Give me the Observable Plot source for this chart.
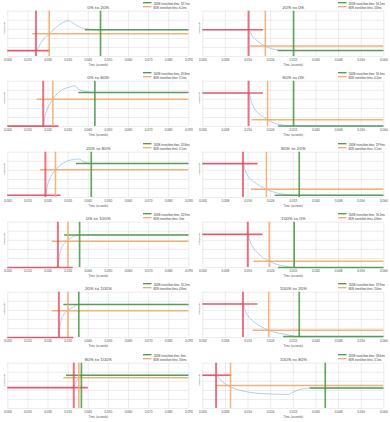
<!DOCTYPE html>
<html><head><meta charset="utf-8">
<script src="https://cdn.jsdelivr.net/npm/d3@7"></script>
<script src="https://cdn.jsdelivr.net/npm/@observablehq/plot@0.6"></script>
<style>
body{margin:0;background:#fff;}
#wrap{position:relative;width:390px;height:422px;overflow:hidden;background:#fff;}
.panel{position:absolute;width:195px;height:70px;}
</style></head><body><div id="wrap"></div>
<script>
const titles = ["0% to 20%","20% to 0%","0% to 80%","80% to 0%","20% to 80%","80% to 20%","0% to 100%","100% to 0%","20% to 100%","100% to 20%","80% to 100%","100% to 80%"];
const t100Labels = ["32.7ms","16.1ms","25.8ms","16.3ms","22.8ms","19.9ms","10.9ms","16.3ms","10.2ms","19.9ms","4ms","38.6ms"];
const t80Labels = ["6.2ms","3.8ms","5.1ms","4.2ms","5.1ms","5.1ms","3ms","4.8ms","4.8ms","3.4ms","3.6ms","3.1ms"];
// times in ms
const startTimes = [14.0,16.2,17.6,16.2,18.7,14.2,24.9,15.9,25.4,14.2,32.8,4.7];
const t80Times   = [20.6,22.1,22.4,22.9,23.7,22.5,29.9,23.5,29.9,23.3,35.3,9.8];
const t100Times  = [46.1,32.1,43.3,32.1,41.5,34.1,35.7,32.3,35.3,34.1,36.6,43.3];
const redEnds      = [21.2,21.5,25.4,21.5,26.5,19.5,32.5,21.3,32.8,19.5,40.0,10.3];
const orangeStarts = [12.4,16.8,14.6,17.4,16.3,17.2,22.1,18.0,22.1,17.8,27.9,4.7];
const greenStarts  = [38.6,26.6,35.3,26.8,34.2,25.6,28.2,26.8,27.9,28.6,29.2,38.0];
// luminosity (relative to plot height)
const startLevels = [0.13,0.59,0.01,0.74,0.05,0.75,0.0,0.73,0.0,0.74,0.46,0.735];
const levels80    = [0.50,0.23,0.60,0.15,0.61,0.18,0.58,0.14,0.59,0.16,0.68,0.51];
const endLevels   = [0.59,0.13,0.75,0.01,0.75,0.05,0.72,0.0,0.73,0.02,0.735,0.45];
const curveTimes = [
  [14.1,16.3,18.7,20.6,23.7,27.0,30.3,32.0,34.5,38.6,46.1],
  [16.2,17.4,19.2,22.1,24.5,26.8,32.1],
  [17.6,18.4,19.9,22.4,24.5,27.9,31.2,33.2,35.3,37.8,43.3],
  [16.2,17.2,18.3,19.8,21.5,22.9,25.0,27.4,32.1],
  [18.7,19.6,21.2,23.7,26.2,29.5,32.8,35.3,37.8,41.5],
  [14.2,15.1,16.2,18.0,20.3,22.5,25.0,28.0,31.5,34.1],
  [24.9,25.4,26.2,27.5,29.9,32.0,33.7,35.7],
  [15.9,16.8,18.0,19.8,21.5,23.5,25.6,28.6,32.3],
  [25.4,25.9,26.7,27.9,29.9,32.0,35.3],
  [14.2,15.1,16.2,18.0,20.3,23.3,26.2,29.2,34.1],
  [32.8,33.5,34.3,35.3,36.2,37.0],
  [4.7,6.2,8.0,10.3,13.9,18.6,24.5,30.3,31.5,33.9,38.0,43.3]
];
const curveLevels = [
  [0.13,0.29,0.43,0.50,0.63,0.74,0.79,0.75,0.68,0.61,0.59],
  [0.59,0.46,0.35,0.23,0.17,0.14,0.13],
  [0.01,0.21,0.41,0.60,0.72,0.83,0.875,0.90,0.82,0.78,0.75],
  [0.74,0.54,0.39,0.28,0.21,0.15,0.08,0.04,0.01],
  [0.05,0.25,0.44,0.61,0.72,0.80,0.84,0.85,0.79,0.75],
  [0.75,0.58,0.45,0.35,0.25,0.18,0.12,0.08,0.05,0.05],
  [0.0,0.19,0.37,0.50,0.59,0.67,0.70,0.72],
  [0.73,0.56,0.42,0.30,0.21,0.14,0.08,0.035,0.0],
  [0.0,0.24,0.40,0.51,0.60,0.66,0.73],
  [0.74,0.58,0.46,0.35,0.25,0.16,0.10,0.07,0.02],
  [0.46,0.54,0.61,0.67,0.71,0.735],
  [0.735,0.625,0.54,0.46,0.39,0.34,0.32,0.31,0.35,0.41,0.45,0.45]
];
const leftTicks  = [0.000,0.010,0.020,0.030,0.040,0.050,0.060,0.070,0.080,0.090];
const rightTicks = [0.000,0.008,0.016,0.024,0.032,0.040,0.048,0.056,0.064];
const gridLevels = [0,0.2,0.4,0.6,0.8,1];

const RED="#e4465b", ORANGE="#f4a868", GREEN="#4a964a", BLUE="#9cc3e6", GRID="#d9d9d9", TEXT="#595959";
const wrap = document.getElementById("wrap");
const ms = v => v/1000;

titles.forEach((title, i) => {
  const col = i % 2, row = Math.floor(i / 2);
  const ticks = col === 0 ? leftTicks : rightTicks;
  const xmax = ticks[ticks.length - 1];
  const curve = [{t:0, y:startLevels[i]}]
    .concat(curveTimes[i].map((t, j) => ({t: ms(t), y: curveLevels[i][j]})))
    .concat([{t:xmax, y:endLevels[i]}]);
  const redH = [{x1:0, x2:ms(redEnds[i]), y:startLevels[i]}];
  const orH = [{x1:ms(orangeStarts[i]), x2:xmax, y:levels80[i]}];
  const grH = [{x1:ms(greenStarts[i]), x2:xmax, y:endLevels[i]}];
  const svg = Plot.plot({
    width:195, height:70,
    marginTop:10.7, marginBottom:14, marginLeft:7.3, marginRight:6.7,
    style:{fontFamily:"Lato, 'Open Sans', sans-serif", fontSize:"3px", color:TEXT, background:"transparent"},
    x:{domain:[0, xmax], ticks:ticks, tickFormat:d => d.toFixed(3), tickSize:0, tickPadding:2.2, label:null},
    y:{domain:[0, 1], axis:null},
    marks:[
      Plot.ruleX(ticks, {stroke:GRID, strokeWidth:0.5}),
      Plot.ruleY(gridLevels, {stroke:GRID, strokeWidth:0.5}),
      Plot.line(curve, {x:"t", y:"y", stroke:BLUE, strokeWidth:0.8, curve:"monotone-x"}),
      Plot.ruleY(redH, {x1:"x1", x2:"x2", y:"y", stroke:RED, strokeWidth:1.7, strokeOpacity:0.85}),
      Plot.ruleY(orH, {x1:"x1", x2:"x2", y:"y", stroke:ORANGE, strokeWidth:1.5, strokeOpacity:0.9}),
      Plot.ruleY(grH, {x1:"x1", x2:"x2", y:"y", stroke:GREEN, strokeWidth:1.5, strokeOpacity:0.9}),
      Plot.ruleX([ms(startTimes[i])], {stroke:RED, strokeWidth:2, strokeOpacity:0.75}),
      Plot.ruleX([ms(t80Times[i])], {stroke:ORANGE, strokeWidth:1.6, strokeOpacity:0.85}),
      Plot.ruleX([ms(t100Times[i])], {stroke:GREEN, strokeWidth:1.7, strokeOpacity:0.85}),
      Plot.text([title], {frameAnchor:"top", dy:-5.5, fontSize:4.6, fill:TEXT}),
      Plot.text(["Time (seconds)"], {frameAnchor:"bottom", dy:9, fontSize:3, fill:TEXT}),
      Plot.text(["Luminosity"], {frameAnchor:"left", rotate:-90, dx:-4, fontSize:2.6, fill:TEXT}),
      Plot.text([`100% transition time: ${t100Labels[i]}`], {frameAnchor:"top-right", textAnchor:"start", dx:-35.3, dy:-8, fontSize:2.8, fill:"#404040"}),
      Plot.text([`80% transition time: ${t80Labels[i]}`], {frameAnchor:"top-right", textAnchor:"start", dx:-35.3, dy:-4, fontSize:2.8, fill:"#404040"})
    ]
  });
  const s = d3.select(svg);
  s.append("line").attr("x1",143).attr("x2",151.5).attr("y1",2.7).attr("y2",2.7).attr("stroke",GREEN).attr("stroke-width",1.3);
  s.append("line").attr("x1",143).attr("x2",151.5).attr("y1",6.7).attr("y2",6.7).attr("stroke",ORANGE).attr("stroke-width",1.3);
  const div = document.createElement("div");
  div.className = "panel";
  div.style.left = (col * 195) + "px";
  div.style.top = (row * 422 / 6) + "px";
  div.appendChild(svg);
  wrap.appendChild(div);
});
</script></body></html>
